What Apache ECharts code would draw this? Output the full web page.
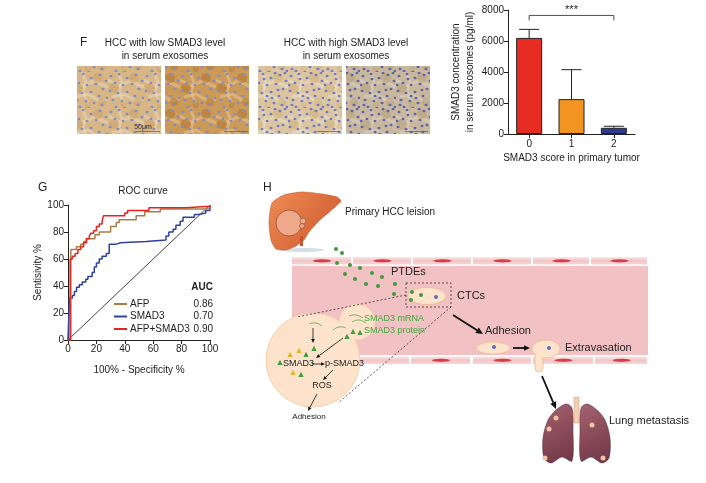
<!DOCTYPE html>
<html><head><meta charset="utf-8">
<script src="https://cdn.jsdelivr.net/npm/echarts@6/dist/echarts.min.js"></script>
<style>html,body{margin:0;padding:0;background:#fff}#c{width:706px;height:483px}</style>
</head><body><div id="c"></div>
<script>
// ---- Panel F bar chart data ----
const scoreCategories = ['0', '1', '2'];
const smad3Conc = [6200, 2250, 400];
const smad3ErrTop = [6750, 4150, 500];
const barColors = ['#e52b22', '#f39322', '#2d3a92'];
const sigPair = [0, 2, 7650];
const sigLabel = '***';
// ---- Panel G ROC data ----
const rocNames = ['AFP', 'SMAD3', 'AFP+SMAD3'];
const rocAUC = ['0.86', '0.70', '0.90'];
const rocColors = ['#a97c46', '#2e40a0', '#e8231f'];
const rocAFP = [[0,0],[2,67],[6,69],[9,71],[11,73],[13,75],[19,78],[22,80],[30,84],[34,87],[36,89],[48,92],[54,95],[65,97],[97,98],[100,100]];
const rocSMAD3 = [[0,0],[1,31],[3,33],[4.5,36],[6,39],[8,41],[10,43],[12.5,45],[14,47],[17,50],[18.5,54],[20,57],[22,60],[24,62],[27,64],[29,71],[34,72],[37,73],[55,74],[69,77],[71,80],[74,82],[76,85],[79,88],[81,91],[89,93],[92,94],[97,96],[100,100]];
const rocCombo = [[0,0],[1.5,60],[3,62],[5,64],[7,67],[9,69],[11,72],[13,75],[15,77],[16,79],[18,81],[20,84],[22,86],[24,88],[25,92],[40,94],[42,96],[57,98],[83,99],[100,100]];
const rocDiag = [[0,0],[100,100]];

const FONT = 'Liberation Sans, Arial, Helvetica, sans-serif';

// ---- decorative histology textures ----
const nucA = [[3,4],[11,2],[19,6],[28,3],[34,9],[7,11],[15,13],[24,12],[31,17],[2,19],[10,21],[19,20],[27,24],[35,26],[5,28],[14,29],[22,31],[30,33],[8,35],[17,36]];
const nucB = [[23,1],[1,13],[20,26],[33,1],[12,7],[26,18],[4,33],[35,35],[15,24]];
const streaks = [[[0,8],[12,14],[22,9],[36,15]],[[4,25],[16,22],[28,29],[36,27]],[[10,0],[14,10],[11,20],[18,36]]];
function tile(base, light, dark, nuc, many) {
  const c = document.createElement('canvas'); c.width = 36; c.height = 36;
  const g = c.getContext('2d');
  g.fillStyle = base; g.fillRect(0, 0, 36, 36);
  g.globalAlpha = 0.55;
  g.strokeStyle = light; g.lineWidth = 3;
  streaks.forEach(s => { g.beginPath(); g.moveTo(s[0][0], s[0][1]); s.slice(1).forEach(p => g.lineTo(p[0], p[1])); g.stroke(); });
  g.fillStyle = dark;
  [[6,16,5],[26,6,5],[30,30,4],[16,33,3]].forEach(b => { g.beginPath(); g.arc(b[0], b[1], b[2], 0, 7); g.fill(); });
  g.globalAlpha = 1;
  g.fillStyle = nuc;
  nucA.concat(many ? nucB : []).forEach(p => { g.beginPath(); g.ellipse(p[0], p[1], 1.5, 1.3, 0, 0, 7); g.fill(); });
  return c;
}
const tiles = [
  tile('#d8b686', '#ead9bf', '#cda068', '#7f8cc8', false),
  tile('#cc9a58', '#e3c79d', '#b0742f', '#7f8cc8', false),
  tile('#dcc5a0', '#ece0cb', '#d0b07a', '#6f7dc6', true),
  tile('#c9b89d', '#ddd2bf', '#b69e7a', '#5c66b0', true)
];
const imgX = [77, 165, 258, 346];

function arrow(x1, y1, x2, y2, w, h) {
  const a = Math.atan2(y2 - y1, x2 - x1);
  const bx = x2 - h * Math.cos(a), by = y2 - h * Math.sin(a);
  const px = -Math.sin(a) * h * 0.45, py = Math.cos(a) * h * 0.45;
  return [
    { type: 'line', shape: { x1: x1, y1: y1, x2: bx, y2: by }, style: { stroke: '#111', lineWidth: w } },
    { type: 'polygon', shape: { points: [[x2, y2], [bx + px, by + py], [bx - px, by - py]] }, style: { fill: '#111' } }
  ];
}
function txt(x, y, s, opt) {
  return { type: 'text', x: x, y: y, style: Object.assign({ text: s, fontFamily: FONT, fontSize: 10, fill: '#222', verticalAlign: 'middle' }, opt || {}) };
}

const G = [];
// Panel F
G.push(txt(80, 43, 'F', { fontSize: 12 }));
G.push(txt(165, 43, 'HCC with low SMAD3 level', { align: 'center' }));
G.push(txt(165, 56, 'in serum exosomes', { align: 'center' }));
G.push(txt(346, 43, 'HCC with high SMAD3 level', { align: 'center' }));
G.push(txt(346, 56, 'in serum exosomes', { align: 'center' }));
imgX.forEach((x, i) => {
  G.push({ type: 'rect', shape: { x: x, y: 66, width: 84, height: 68 }, style: { fill: { image: tiles[i], repeat: 'repeat' } } });
});
G.push(txt(143, 127, '50μm', { align: 'center', fontSize: 7, fill: '#333' }));
[[136,160],[224,248],[317,340],[405,428]].forEach(s => G.push({ type: 'line', shape: { x1: s[0], y1: 131.5, x2: s[1], y2: 131.5 }, style: { stroke: '#666', lineWidth: 0.8 } }));
// Panel G labels
G.push(txt(38, 188, 'G', { fontSize: 12 }));
G.push(txt(143, 191, 'ROC curve', { align: 'center' }));
G.push(txt(213, 287, 'AUC', { align: 'right', fontWeight: 'bold', fontSize: 10 }));
rocAUC.forEach((v, i) => G.push(txt(213, 304 + i * 12.5, v, { align: 'right' })));

// Panel H illustration
G.push(txt(263, 188, 'H', { fontSize: 12 }));
G.push({ type: 'ellipse', shape: { cx: 302, cy: 250, rx: 22, ry: 2 }, style: { fill: '#b9c6dc', opacity: 0.6 } });
G.push({ type: 'polygon', shape: { points: [[272,203],[284,195],[302,192],[322,194],[337,197],[341,201],[334,208],[320,220],[309,232],[304,240],[300,243],[296,246],[286,250],[276,249],[271,240],[269,222]], smooth: 0.2 },
  style: { fill: { type: 'linear', x: 0, y: 0, x2: 1, y2: 1, colorStops: [{ offset: 0, color: '#ef8c54' }, { offset: 1, color: '#cb552b' }] }, stroke: '#c65a2c', lineWidth: 0.6 } });
G.push({ type: 'rect', shape: { x: 300, y: 236, width: 3, height: 10 }, style: { fill: '#c9532a' } });
G.push({ type: 'circle', shape: { cx: 289, cy: 223, r: 13 }, style: { fill: '#efa98a', stroke: '#7a3a22', lineWidth: 0.6 } });
G.push({ type: 'circle', shape: { cx: 303, cy: 221, r: 3 }, style: { fill: '#efa98a', stroke: '#7a3a22', lineWidth: 0.5 } });
G.push({ type: 'circle', shape: { cx: 302, cy: 226, r: 2.5 }, style: { fill: '#efa98a', stroke: '#7a3a22', lineWidth: 0.5 } });
G.push(txt(345, 212, 'Primary HCC leision'));
// vessel lumen
G.push({ type: 'rect', shape: { x: 292, y: 266, width: 356, height: 89 }, style: { fill: '#f2c1c3' } });
const wallTop = [[292,352],[353,412],[413,472],[473,532],[533,590],[591,648]];
const wallBot = [[292,410],[411,471],[473,532],[533,594],[595,648]];
function wall(segs, y) {
  segs.forEach(s => {
    G.push({ type: 'rect', shape: { x: s[0], y: y, width: s[1] - s[0] - 1, height: 7.5 },
      style: { fill: { type: 'linear', x: 0, y: 0, x2: 0, y2: 1, colorStops: [{ offset: 0, color: '#fbe6e6' }, { offset: 0.5, color: '#f3c4c6' }, { offset: 1, color: '#f7d6d7' }] } } });
    G.push({ type: 'ellipse', shape: { cx: (s[0] + s[1]) / 2, cy: y + 3.8, rx: 9, ry: 1.6 }, style: { fill: '#d83d4a' } });
  });
}
wall(wallTop, 257);
wall(wallBot, 356.5);
// PTDEs dots
[[336,249],[342,253],[337,263],[350,265],[360,268],[345,274],[355,279],[366,284],[372,273],[382,277],[378,286],[395,284],[394,294]]
  .forEach(p => G.push({ type: 'circle', shape: { cx: p[0], cy: p[1], r: 2 }, style: { fill: '#3f9a3a' } }));
G.push(txt(391, 272, 'PTDEs', { fontSize: 11 }));
// CTC in dashed box
G.push({ type: 'ellipse', shape: { cx: 427, cy: 296, rx: 19, ry: 8.5 }, style: { fill: '#fde3cb', stroke: '#f0b98c', lineWidth: 0.8 } });
G.push({ type: 'circle', shape: { cx: 436, cy: 297, r: 2 }, style: { fill: '#5b6fb8' } });
[[412,292],[421,295],[411,300]].forEach(p => G.push({ type: 'circle', shape: { cx: p[0], cy: p[1], r: 2 }, style: { fill: '#3f9a3a' } }));
G.push({ type: 'rect', shape: { x: 406, y: 283, width: 45, height: 24 }, style: { fill: 'none', stroke: '#333', lineWidth: 0.8, lineDash: [2, 2] } });
G.push(txt(457, 296, 'CTCs', { fontSize: 11 }));
// zoomed cell
G.push({ type: 'circle', shape: { cx: 357, cy: 322, r: 18 }, style: { fill: '#fde3cb', stroke: '#f5c7a2', lineWidth: 0.8 } });
G.push({ type: 'circle', shape: { cx: 313, cy: 360, r: 47 }, style: { fill: '#fde3cb', stroke: '#f5c7a2', lineWidth: 0.8 } });
G.push({ type: 'circle', shape: { cx: 357, cy: 322, r: 17.3 }, style: { fill: '#fde3cb' } });
G.push({ type: 'line', shape: { x1: 406, y1: 295, x2: 297, y2: 317 }, style: { stroke: '#333', lineWidth: 0.8, lineDash: [2, 2] } });
G.push({ type: 'line', shape: { x1: 451, y1: 307, x2: 338, y2: 403 }, style: { stroke: '#333', lineWidth: 0.8, lineDash: [2, 2] } });
// mRNA squiggles
[[[349,316],[356,315],[363,318]],[[352,322],[359,320],[366,323]],[[309,324],[316,323],[322,326]],[[333,330],[339,327],[346,328]]]
  .forEach(pts => G.push({ type: 'polyline', shape: { points: pts, smooth: 0.5 }, style: { stroke: '#46a83f', lineWidth: 0.8, fill: 'none' } }));
G.push(txt(364, 319, 'SMAD3 mRNA', { fill: '#3ea838', fontSize: 9 }));
G.push(txt(364, 331, 'SMAD3 protein', { fill: '#3ea838', fontSize: 9 }));
function tri(x, y, c) { G.push({ type: 'polygon', shape: { points: [[x, y - 3.2], [x - 2.6, y + 2], [x + 2.6, y + 2]] }, style: { fill: c } }); }
[[314,349],[306,355],[347,337],[353,332],[360,333],[280,363],[301,375]].forEach(p => tri(p[0], p[1], '#3d9e3a'));
[[290,355],[299,351],[293,373]].forEach(p => tri(p[0], p[1], '#e6b324'));
G.push(txt(283, 364, 'SMAD3', { fontSize: 9 }));
G.push(txt(325, 364, 'p-SMAD3', { fontSize: 9 }));
G.push(txt(322, 386, 'ROS', { fontSize: 9, align: 'center' }));
G.push(txt(309, 417, 'Adhesion', { fontSize: 8, align: 'center' }));
[].concat(arrow(313, 328, 313, 343, 0.8, 4), arrow(343, 338, 316, 358, 0.8, 4), arrow(312, 364, 325, 364, 0.8, 4),
  arrow(333, 370, 323, 380, 0.8, 4), arrow(317, 394, 308, 411, 0.8, 4)).forEach(e => G.push(e));
// adhesion / extravasation
[].concat(arrow(453, 315, 483, 334, 1.8, 7), arrow(513, 348, 530, 348, 1.8, 6), arrow(542, 376, 556, 409, 1.8, 7)).forEach(e => G.push(e));
G.push(txt(485, 331, 'Adhesion', { fontSize: 11 }));
G.push({ type: 'ellipse', shape: { cx: 493, cy: 348, rx: 17, ry: 6 }, style: { fill: '#fde3cb', stroke: '#f0b98c', lineWidth: 0.8 } });
G.push({ type: 'circle', shape: { cx: 494, cy: 347, r: 2 }, style: { fill: '#5b6fb8' } });
G.push({ type: 'rect', shape: { x: 535, y: 352, width: 8, height: 20, r: 4 }, style: { fill: '#fde3cb', stroke: '#f0b98c', lineWidth: 0.8 } });
G.push({ type: 'ellipse', shape: { cx: 546, cy: 349, rx: 14, ry: 9 }, style: { fill: '#fde3cb', stroke: '#f0b98c', lineWidth: 0.8 } });
G.push({ type: 'rect', shape: { x: 536, y: 355, width: 6, height: 8 }, style: { fill: '#fde3cb' } });
G.push({ type: 'circle', shape: { cx: 549, cy: 348, r: 2 }, style: { fill: '#5b6fb8' } });
G.push(txt(565, 348, 'Extravasation', { fontSize: 11 }));
// lungs
G.push({ type: 'rect', shape: { x: 574, y: 397, width: 5, height: 26 }, style: { fill: '#f0cfb3', stroke: '#c89a80', lineWidth: 0.5 } });
const lungL = [[556,410],[566,404],[572,408],[573,430],[572,461],[562,457],[551,463],[544,458],[543,438],[548,420]];
const lungR = lungL.map(p => [1153 - p[0], p[1]]);
[lungL, lungR].forEach(pts => G.push({ type: 'polygon', shape: { points: pts, smooth: 0.3 },
  style: { fill: { type: 'linear', x: 0, y: 0, x2: 1, y2: 1, colorStops: [{ offset: 0, color: '#a5636f' }, { offset: 1, color: '#6f3445' }] }, stroke: '#5c2a38', lineWidth: 0.5 } }));
[[556,418],[549,429],[592,425],[545,458],[603,458]].forEach(p => G.push({ type: 'circle', shape: { cx: p[0], cy: p[1], r: 2.5 }, style: { fill: '#f2c2a2' } }));
G.push(txt(609, 421, 'Lung metastasis', { fontSize: 11 }));

const axisCommon = {
  axisLine: { show: true, lineStyle: { color: '#222', width: 1 } },
  axisTick: { show: true, length: 4, lineStyle: { color: '#222' } },
  axisLabel: { color: '#222', fontSize: 10, fontFamily: FONT, margin: 4, formatter: v => String(v) },
  splitLine: { show: false },
  nameTextStyle: { color: '#222', fontSize: 10, fontFamily: FONT }
};

const option = {
  animation: false,
  textStyle: { fontFamily: FONT },
  grid: [
    { left: 508, top: 10, width: 127, height: 124 },
    { left: 68, top: 205, width: 142, height: 135 }
  ],
  xAxis: [
    Object.assign({}, axisCommon, { gridIndex: 0, type: 'category', data: scoreCategories, axisTick: { show: true, alignWithLabel: true, length: 4, lineStyle: { color: '#222' } },
      axisLabel: { color: '#222', fontSize: 10, fontFamily: FONT, margin: 5 },
      name: 'SMAD3 score in primary tumor', nameLocation: 'middle', nameGap: 19 }),
    Object.assign({}, axisCommon, { gridIndex: 1, type: 'value', min: 0, max: 100, interval: 20,
      name: '100% - Specificity %', nameLocation: 'middle', nameGap: 25 })
  ],
  yAxis: [
    Object.assign({}, axisCommon, { gridIndex: 0, type: 'value', min: 0, max: 8000, interval: 2000,
      name: 'SMAD3 concentration\nin serum exosomes (pg/ml)', nameLocation: 'middle', nameGap: 31, nameTextStyle: { color: '#222', fontSize: 10, fontFamily: FONT, lineHeight: 14 } }),
    Object.assign({}, axisCommon, { gridIndex: 1, type: 'value', min: 0, max: 100, interval: 20,
      name: 'Sentisivity %', nameLocation: 'middle', nameGap: 24 })
  ],
  legend: {
    data: rocNames, left: 114, top: 299, orient: 'vertical', itemGap: 2.5, itemWidth: 13, itemHeight: 2, icon: 'rect',
    textStyle: { fontSize: 10, color: '#222', fontFamily: FONT, padding: [0, 0, 0, -2] }, padding: 0
  },
  series: [
    { type: 'bar', xAxisIndex: 0, yAxisIndex: 0, barWidth: 26,
      data: smad3Conc.map((v, i) => ({ value: v, itemStyle: { color: barColors[i], borderColor: '#222', borderWidth: 1 } })) },
    { type: 'custom', xAxisIndex: 0, yAxisIndex: 0, z: 5,
      data: smad3Conc.map((v, i) => [i, v, smad3ErrTop[i]]),
      renderItem: function (params, api) {
        const a = api.coord([api.value(0), api.value(1)]);
        const b = api.coord([api.value(0), api.value(2)]);
        return { type: 'group', children: [
          { type: 'line', shape: { x1: a[0], y1: a[1], x2: b[0], y2: b[1] }, style: { stroke: '#222', lineWidth: 1 } },
          { type: 'line', shape: { x1: b[0] - 10, y1: b[1], x2: b[0] + 10, y2: b[1] }, style: { stroke: '#222', lineWidth: 1 } }
        ] };
      } },
    { type: 'custom', xAxisIndex: 0, yAxisIndex: 0, z: 5,
      data: [sigPair],
      renderItem: function (params, api) {
        const a = api.coord([api.value(0), api.value(2)]);
        const b = api.coord([api.value(1), api.value(2)]);
        return { type: 'group', children: [
          { type: 'polyline', shape: { points: [[a[0], a[1] + 5], [a[0], a[1]], [b[0], b[1]], [b[0], b[1] + 5]] }, style: { stroke: '#222', lineWidth: 0.8, fill: 'none' } },
          { type: 'text', x: (a[0] + b[0]) / 2, y: a[1] - 5, style: { text: sigLabel, fontSize: 11, fontFamily: FONT, fill: '#222', align: 'center', verticalAlign: 'middle' } }
        ] };
      } },
    { type: 'line', name: 'diag', xAxisIndex: 1, yAxisIndex: 1, data: rocDiag, showSymbol: false, symbol: 'none', lineStyle: { color: '#111', width: 0.8 } },
    { type: 'line', name: rocNames[1], xAxisIndex: 1, yAxisIndex: 1, data: rocSMAD3, step: 'end', symbol: 'none', color: rocColors[1], lineStyle: { color: rocColors[1], width: 1.5 } },
    { type: 'line', name: rocNames[0], xAxisIndex: 1, yAxisIndex: 1, data: rocAFP, step: 'end', symbol: 'none', color: rocColors[0], lineStyle: { color: rocColors[0], width: 1.5 } },
    { type: 'line', name: rocNames[2], xAxisIndex: 1, yAxisIndex: 1, data: rocCombo, step: 'end', symbol: 'none', color: rocColors[2], lineStyle: { color: rocColors[2], width: 1.5 } }
  ],
  graphic: G
};
const chart = echarts.init(document.getElementById('c'), null, { renderer: 'canvas' });
chart.setOption(option);
</script>
</body></html>
